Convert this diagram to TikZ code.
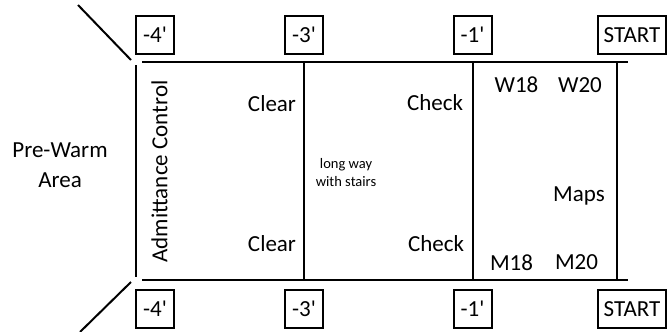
\documentclass[tikz,border=0pt]{standalone}
\usepackage{fontspec}
\setmainfont{Carlito}
\usetikzlibrary{positioning}

\newcommand{\ftmark}[1]{-#1\textquotesingle}

\tikzset{
  wall/.style={line width=2pt},
  tagbox/.style={draw, line width=2pt, minimum width=38pt, minimum height=38pt,
    inner sep=2pt, font=\fontsize{23}{27}\selectfont},
  lbl/.style={inner sep=0pt, font=\fontsize{23}{27}\selectfont},
  note/.style={inner sep=0pt, align=center, font=\fontsize{14.5}{18}\selectfont},
}

\begin{document}
\begin{tikzpicture}[x=1pt, y=-1pt]
	\useasboundingbox (0,0) rectangle (667,332);

	% corridor outline
	\coordinate (tl) at (142,62);
	\coordinate (tr) at (628,62);
	\coordinate (bl) at (142,280);
	\coordinate (br) at (628,280);
	\draw[wall] (tl) -- (tr);
	\draw[wall] (bl) -- (br);
	\draw[wall] (136,65) coordinate (gt) -- (136,277) coordinate (gb);
	\foreach \x/\n in {304/a, 472.5/b, 617/c}{
		\draw[wall] (\x,62) coordinate (\n t) -- (\x,280) coordinate (\n b);
	}
	% funnel into the pre-warm area
	\coordinate (dt) at (78,5);
	\coordinate (db) at (80,332);
	\draw[wall] (dt) -- (131,60);
	\draw[wall] (131,282) -- (db);

	% distance marks
	\foreach \x/\d in {155/4, 304/3, 472.5/1}{
		\node[tagbox] (up\d) at (\x,34.5) {\ftmark{\d}};
		\node[tagbox] (dn\d) at (\x,308.5) {\ftmark{\d}};
	}
	\node[tagbox, minimum width=68pt] (upstart) at (632,35) {START};
	\node[tagbox, minimum width=68pt] (dnstart) at (632,309) {START};

	% labels
	\node[lbl, align=center, font=\fontsize{23}{30}\selectfont] (prewarm) at (60,165) {Pre-Warm\\Area};
	\node[lbl, rotate=90] (admit) at (159.5,171.5) {Admittance Control};
	\node[lbl] (clear1) at (272,104) {Clear};
	\node[lbl] (clear2) at (272,244) {Clear};
	\node[note] (stairs) at (346,173) {long way\\with stairs};
	\node[lbl] (check1) at (435,103) {Check};
	\node[lbl] (check2) at (436,244) {Check};
	\node[lbl] (w18) at (516.5,85) {W18};
	\node[lbl] (w20) at (580,85) {W20};
	\node[lbl] (maps) at (579,196) {Maps};
	\node[lbl] (m18) at (511.5,263) {M18};
	\node[lbl] (m20) at (576.5,262) {M20};
\end{tikzpicture}
\end{document}
